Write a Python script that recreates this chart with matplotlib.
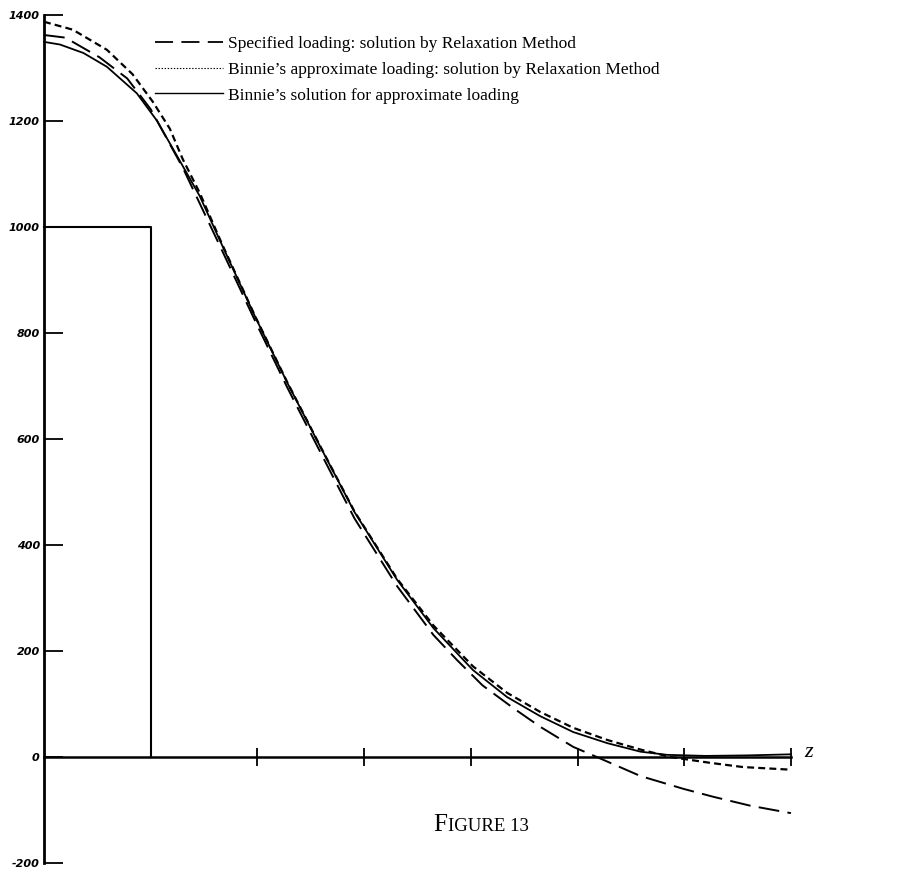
import numpy as np
import matplotlib.pyplot as plt
from matplotlib.lines import Line2D

'''Data'''
# values (x in tick units, y in the plotted units)
x_solid = [0, 0.15, 0.37, 0.59, 0.87, 1.06, 1.30, 1.46, 1.67, 1.98, 2.28, 2.59, 2.91, 3.31, 3.65,
           4.02, 4.34, 4.65, 4.96, 5.28, 5.59, 5.84, 6.2, 6.6, 7.0]
y_solid = [1349, 1344, 1328, 1302, 1252, 1200, 1115, 1058, 965, 830, 706, 585, 462, 334, 243,
           164, 113, 77, 47, 26, 10, 4, 2, 3, 5]

x_dashed = [0, 0.2, 0.52, 0.78, 1.0, 1.3, 1.67, 1.98, 2.28, 2.59, 2.91, 3.31, 3.65, 3.87, 4.11,
            4.40, 4.65, 4.96, 5.18, 5.59, 5.99, 6.27, 6.62, 7.0]
y_dashed = [1362, 1357, 1320, 1280, 1222, 1112, 955, 822, 697, 575, 450, 322, 230, 183, 135,
            92, 57, 19, 0, -36, -60, -75, -92, -106]

x_dotted = [0, 0.27, 0.59, 0.83, 1.02, 1.18, 1.30, 1.46, 1.67, 1.98, 2.28, 2.59, 2.91, 3.31, 3.65,
            4.02, 4.34, 4.65, 4.96, 5.28, 5.59, 5.87, 6.24, 6.55, 7.0]
y_dotted = [1387, 1372, 1334, 1288, 1236, 1185, 1128, 1064, 967, 831, 707, 586, 463, 336, 248,
            171, 121, 85, 55, 32, 14, 0, -11, -19, -24]

# rectangular load
x_load = [0, 1, 1]
y_load = [1000, 1000, 0]

yticks = [-200, 0, 200, 400, 600, 800, 1000, 1200, 1400]
xticks = [2, 3, 4, 5, 6, 7]

labels = ['Specified loading: solution by Relaxation Method',
          "Binnie\u2019s approximate loading: solution by Relaxation Method",
          "Binnie\u2019s solution for approximate loading"]

'''Plotting'''
plt.rcParams['lines.scale_dashes'] = False
serif = 'Liberation Serif'

fig = plt.figure(figsize=(9.19, 8.72), dpi=100)
ax = fig.add_axes([0, 0, 1, 1])
ax.set_xlim(-0.412, 8.2)
ax.set_ylim(-217, 1428)

ax.plot(x_load, y_load, color='black', lw=1.5)
ax.plot(x_dashed, y_dashed, color='black', lw=1.4, dashes=(15, 6))
ax.plot(x_dotted, y_dotted, color='black', lw=1.6, dashes=(5, 3))
ax.plot(x_solid, y_solid, color='black', lw=1.3)

for s in ['top', 'right']:
    ax.spines[s].set_visible(False)
ax.spines['left'].set_position(('data', 0))
ax.spines['left'].set_bounds(-200, 1400)
ax.spines['left'].set_linewidth(2.0)
ax.spines['bottom'].set_position(('data', 0))
ax.spines['bottom'].set_bounds(0, 7)
ax.spines['bottom'].set_linewidth(1.8)

ax.set_yticks(yticks)
ax.set_yticklabels([str(v) for v in yticks], fontsize=8, fontweight='bold', fontstyle='italic')
ax.tick_params(axis='y', direction='in', length=14, width=1.3, pad=3)
ax.set_xticks(xticks)
ax.set_xticklabels([])
ax.tick_params(axis='x', direction='inout', length=13, width=1.3)

ax.text(7.12, 8, 'z', fontsize=16, fontstyle='italic', family=serif, va='center', ha='left')

handles = [Line2D([], [], color='black', lw=1.3, dashes=(13, 6)),
           Line2D([], [], color='black', lw=0.8, dashes=(1, 1.2)),
           Line2D([], [], color='black', lw=1.0)]
ax.legend(handles, labels, loc='upper left', bbox_to_anchor=(155 / 919, 1 - 36 / 872),
          frameon=False, borderpad=0, borderaxespad=0, handlelength=3.9, handletextpad=0.3,
          labelspacing=0.55, prop={'family': serif, 'size': 12.5})

fig.text(447 / 919, 1 - 831 / 872, 'F', fontsize=18, family=serif, ha='right', va='baseline')
fig.text(448 / 919, 1 - 831 / 872, 'IGURE 13', fontsize=13.5, family=serif, ha='left', va='baseline')

plt.savefig('out.png', dpi=100)
